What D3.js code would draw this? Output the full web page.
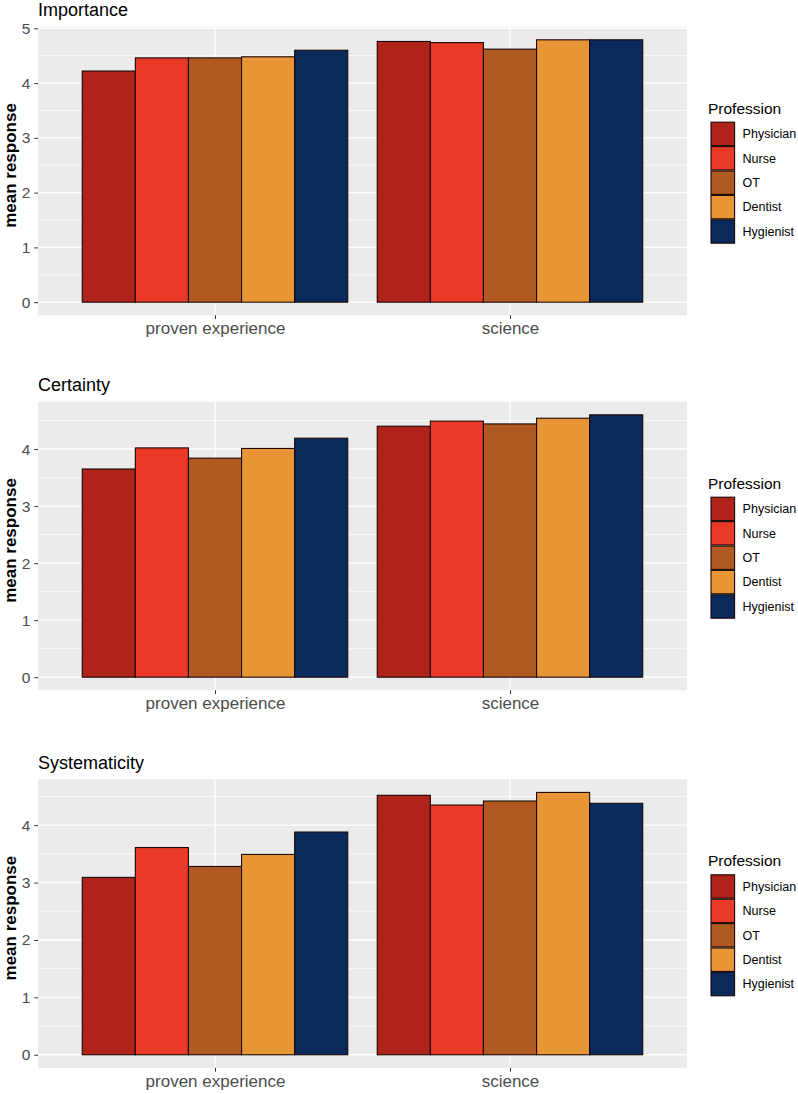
<!DOCTYPE html>
<html>
<head>
<meta charset="utf-8">
<script src="https://cdn.jsdelivr.net/npm/d3@7"></script>
<style>
  html, body { margin: 0; padding: 0; background: #fff; }
  svg { display: block; font-family: "Liberation Sans", Arial, Helvetica, sans-serif; }
</style>
</head>
<body>
<svg id="chart" width="798" height="1094"></svg>
<script>
// ---- data ----
const categories = ["proven experience", "science"];
const professions = ["Physician", "Nurse", "OT", "Dentist", "Hygienist"];
const colors = ["#B0231A", "#E83A27", "#B05A22", "#E89536", "#0B2A5C"];
const panelTitles = ["Importance", "Certainty", "Systematicity"];
const yTicks = [0, 1, 2, 3, 4, 5];
const legendTitle = "Profession";
const yAxisTitle = "mean response";

// values: [proven experience, science] per profession
const importancePhysician = [4.22, 4.76];
const importanceNurse     = [4.46, 4.74];
const importanceOT        = [4.46, 4.62];
const importanceDentist   = [4.48, 4.79];
const importanceHygienist = [4.60, 4.79];

const certaintyPhysician = [3.65, 4.40];
const certaintyNurse     = [4.02, 4.49];
const certaintyOT        = [3.84, 4.44];
const certaintyDentist   = [4.01, 4.54];
const certaintyHygienist = [4.19, 4.60];

const systematicityPhysician = [3.09, 4.52];
const systematicityNurse     = [3.61, 4.35];
const systematicityOT        = [3.28, 4.42];
const systematicityDentist   = [3.49, 4.57];
const systematicityHygienist = [3.88, 4.38];

const panelData = [
  [importancePhysician, importanceNurse, importanceOT, importanceDentist, importanceHygienist],
  [certaintyPhysician, certaintyNurse, certaintyOT, certaintyDentist, certaintyHygienist],
  [systematicityPhysician, systematicityNurse, systematicityOT, systematicityDentist, systematicityHygienist]
];

// ---- layout ----
const svg = d3.select("#chart");
const panelLeft = 38, panelRight = 687;
const panelTops = [26.7, 401.7, 779.3];
const panelH = 288.6;

// ggplot discrete axis: 2 categories, expansion 0.6 on each side
const xLin = d3.scaleLinear().domain([0.4, categories.length + 0.6]).range([panelLeft, panelRight]);
const xd = d3.scaleBand().domain(professions).paddingInner(0).paddingOuter(0);

panelData.forEach((series, pi) => {
  const top = panelTops[pi], bottom = top + panelH;
  const maxV = d3.max(series.flat());
  const y = d3.scaleLinear().domain([-0.05 * maxV, 1.05 * maxV]).range([bottom, top]);
  const g = svg.append("g");

  g.append("rect").attr("x", panelLeft).attr("y", top)
    .attr("width", panelRight - panelLeft).attr("height", panelH).attr("fill", "#EBEBEB");

  const majors = yTicks.filter(t => t >= y.domain()[0] && t <= y.domain()[1]);
  const minors = [];
  for (let i = 0; i < yTicks.length - 1; i++) {
    const m = (yTicks[i] + yTicks[i + 1]) / 2;
    if (m >= y.domain()[0] && m <= y.domain()[1]) minors.push(m);
  }
  g.selectAll(".minor").data(minors).enter().append("line")
    .attr("x1", panelLeft).attr("x2", panelRight)
    .attr("y1", d => y(d)).attr("y2", d => y(d))
    .attr("stroke", "#fff").attr("stroke-width", 0.7);
  g.selectAll(".major").data(majors).enter().append("line")
    .attr("x1", panelLeft).attr("x2", panelRight)
    .attr("y1", d => y(d)).attr("y2", d => y(d))
    .attr("stroke", "#fff").attr("stroke-width", 1.4);
  categories.forEach((c, ci) => {
    g.append("line").attr("x1", xLin(ci + 1)).attr("x2", xLin(ci + 1))
      .attr("y1", top).attr("y2", bottom).attr("stroke", "#fff").attr("stroke-width", 1.4);
  });

  // bars
  categories.forEach((c, ci) => {
    const cx = xLin(ci + 1);
    const half = xLin(ci + 1.45) - cx;
    xd.range([cx - half, cx + half]);
    professions.forEach((p, k) => {
      const v = series[k][ci];
      g.append("rect")
        .attr("x", xd(p)).attr("width", xd.bandwidth())
        .attr("y", y(v)).attr("height", y(0) - y(v))
        .attr("fill", colors[k]).attr("stroke", "#1a0806").attr("stroke-width", 1.1);
    });
  });

  // y axis
  const yAxis = d3.axisLeft(y).tickValues(majors).tickFormat(d3.format("d")).tickSize(3.7).tickPadding(4);
  const ya = g.append("g").attr("transform", `translate(${panelLeft},0)`).call(yAxis);
  ya.select(".domain").remove();
  ya.selectAll(".tick line").attr("stroke", "#333").attr("stroke-width", 1);
  ya.selectAll(".tick text").attr("fill", "#4D4D4D").style("font-size", "15.5px");

  // x axis
  const xAxis = d3.axisBottom(xLin).tickValues(categories.map((c, i) => i + 1))
    .tickFormat(d => categories[d - 1]).tickSize(3.7).tickPadding(3.3);
  const xa = g.append("g").attr("transform", `translate(0,${bottom})`).call(xAxis);
  xa.select(".domain").remove();
  xa.selectAll(".tick line").attr("stroke", "#333").attr("stroke-width", 1);
  xa.selectAll(".tick text").attr("fill", "#4D4D4D").style("font-size", "17px");

  // panel title
  g.append("text").attr("x", panelLeft).attr("y", top - 10.5)
    .attr("fill", "#000").style("font-size", "18px").text(panelTitles[pi]);

  // y title
  g.append("text")
    .attr("transform", `translate(16,${(top + bottom) / 2 - 5.5}) rotate(-90)`)
    .attr("text-anchor", "middle").style("font-size", "17px").style("font-weight", "bold")
    .text(yAxisTitle);

  // legend
  const keyTop = top + 95, keyH = 24.4, keyW = 23.6, keyX = 711;
  g.append("text").attr("x", keyX - 3).attr("y", keyTop - 8)
    .style("font-size", "15.5px").attr("fill", "#000").text(legendTitle);
  professions.forEach((p, k) => {
    g.append("rect").attr("x", keyX).attr("y", keyTop + k * keyH + 0.5)
      .attr("width", keyW).attr("height", keyH - 1)
      .attr("fill", colors[k]).attr("stroke", "#1a0806").attr("stroke-width", 1.1);
    g.append("text").attr("x", keyX + keyW + 8).attr("y", keyTop + k * keyH + keyH / 2)
      .attr("dy", "0.35em").style("font-size", "12.5px").attr("fill", "#000").text(p);
  });
});
</script>
</body>
</html>
